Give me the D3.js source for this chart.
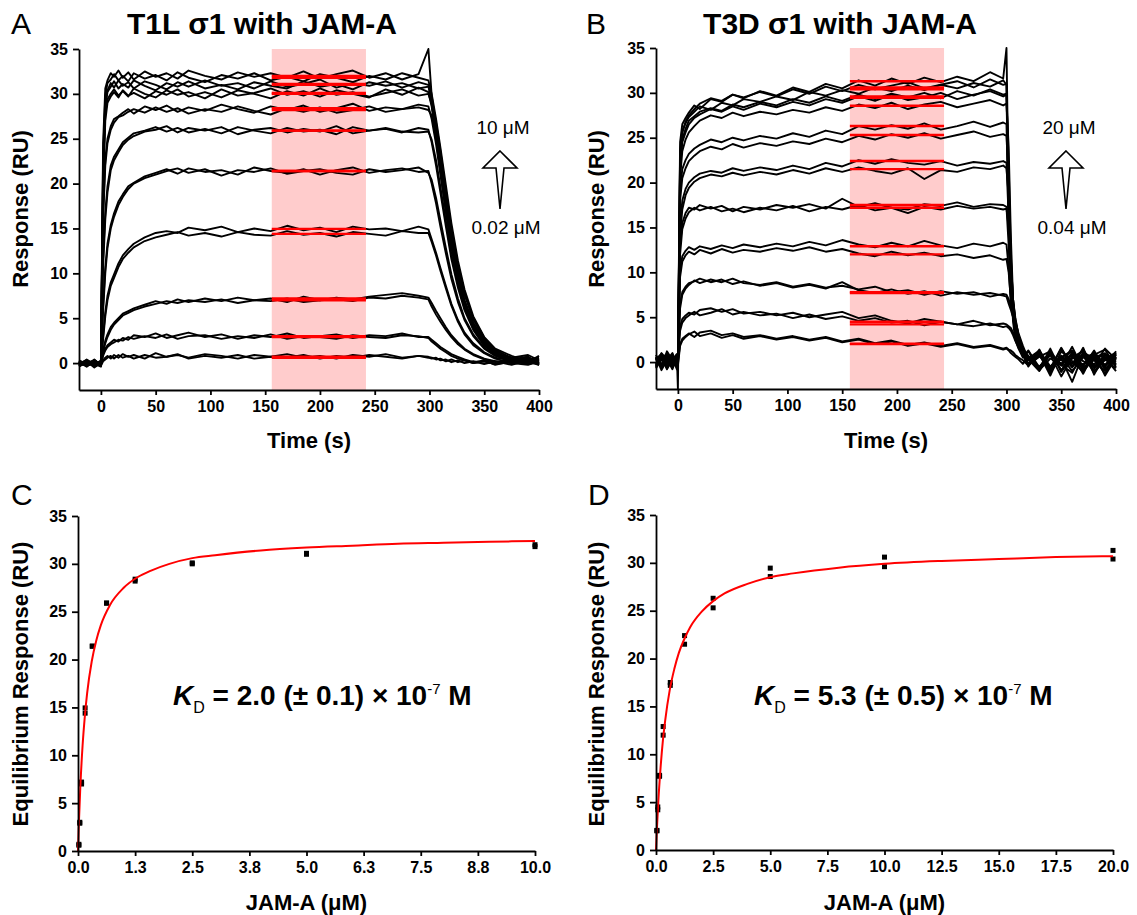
<!DOCTYPE html>
<html>
<head>
<meta charset="utf-8">
<script src="https://d3js.org/d3.v7.min.js"></script>
<style>
  body { margin: 0; background: #fff; }
  text { font-family: "Liberation Sans", Arial, sans-serif; fill: #000; }
  .axis .tick text { font-size: 16px; font-weight: bold; }
  .axis path, .axis line { stroke: #000; stroke-width: 1.8; }
</style>
</head>
<body>
<div id="chart"></div>
<script>
// ---------- panel A : T1L sigma1 sensorgrams ----------
var timeA = [-20,-13,-6,0,2,4,6,9,12,16,20,25,30,40,50,60,70,80,95,110,125,140,155,170,185,200,215,230,245,260,275,290,299,302,306,310,315,320,326,332,340,350,360,375,390,400];

var a10r1 = [-0.3,0.2,-0.5,0.0, 24.5,30.6,31.5,32.3,31.9,32.6,31.8,32.4,31.6,32.5,31.9,32.3,31.7,32.6,32.0,31.6,32.4,31.9,32.3,31.8,32.5,31.7,32.2,32.6,31.8,32.3,31.6,32.2, 35.0,29.8,26.5,23.0,18.6,14.5,10.6,7.6,4.9,2.6,1.4,0.6,0.9,0.3];
var a10r2 = [0.1,-0.4,0.3,-0.2, 23.0,29.8,31.2,31.6,32.2,31.5,32.0,31.4,32.3,31.7,32.1,31.5,32.4,31.8,31.3,32.1,31.7,32.3,31.5,31.9,31.4,32.2,31.8,31.3,32.0,31.6,32.3,31.8, 31.5,30.0,27.2,24.0,19.8,15.6,11.4,8.2,5.2,2.9,1.6,0.8,0.2,0.6];
var a5r1 = [-0.2,0.4,-0.1,-0.4, 22.0,29.0,30.4,31.2,30.7,31.5,30.9,31.3,30.6,31.4,31.0,30.5,31.3,30.8,31.5,30.9,31.2,30.6,31.4,30.8,31.1,31.6,30.7,31.2,30.9,31.4,30.7,31.3, 31.0,29.0,25.8,22.4,17.9,13.8,10.0,7.0,4.5,2.4,1.2,0.3,0.7,-0.2];
var a5r2 = [0.3,-0.1,0.2,-0.3, 21.0,28.5,30.2,30.8,31.4,30.6,31.1,30.7,31.5,30.9,30.4,31.2,30.8,31.4,30.6,31.0,30.5,31.3,30.9,30.6,31.4,30.8,31.1,30.5,31.3,30.9,31.2,30.6, 30.8,29.5,26.8,23.6,19.2,15.0,11.0,7.9,5.0,2.8,1.5,0.5,0.1,0.8];
var a2r1 = [-0.4,0.1,-0.2,0.2, 20.5,27.8,29.4,30.0,30.5,29.8,30.3,29.7,30.6,30.0,29.6,30.4,29.9,30.2,29.5,30.5,29.8,30.1,30.6,29.9,30.3,29.7,30.4,30.0,29.6,30.5,29.9,30.7, 30.2,28.6,25.0,21.3,16.8,12.9,9.2,6.4,4.0,2.1,1.0,0.6,-0.1,0.4];
var a2r2 = [0.2,-0.3,0.0,-0.1, 19.5,27.0,29.0,29.7,30.2,29.6,30.4,29.8,30.1,29.5,30.3,29.9,30.5,29.7,30.2,29.6,30.4,30.0,29.5,30.3,29.8,30.6,29.9,30.2,29.7,30.1,30.5,29.8, 30.0,28.9,25.6,22.0,17.6,13.4,9.7,6.8,4.3,2.3,1.1,0.2,0.5,0.0];
var a1r1 = [-0.1,0.3,-0.3,0.1, 17.0,22.7,25.0,26.4,27.2,27.5,27.9,28.3,27.8,28.6,28.2,28.7,28.0,28.5,28.1,28.8,28.3,27.9,28.6,28.2,28.7,28.0,28.4,28.9,28.1,28.5,28.3,28.8, 28.6,27.2,24.4,21.0,16.9,13.0,9.4,6.6,4.2,2.2,1.1,0.4,0.7,-0.1];
var a1r2 = [0.2,-0.2,0.4,-0.3, 16.0,22.0,24.5,26.0,26.8,27.4,27.6,28.0,28.3,27.9,28.5,28.0,28.4,27.8,28.3,28.0,28.6,28.1,27.7,28.4,28.0,28.5,27.9,28.2,28.6,28.0,28.3,28.5, 28.2,27.6,25.2,21.8,17.5,13.5,9.8,6.9,4.4,2.4,1.3,0.1,0.4,0.6];
var a06r1 = [-0.3,0.0,0.3,-0.2, 11.7,16.8,19.7,22.0,23.0,23.8,24.6,25.1,25.6,25.9,26.3,25.8,26.2,25.7,26.1,25.6,26.3,25.9,25.6,26.2,25.8,26.0,25.5,26.3,25.9,26.1,25.7,26.2, 26.0,24.6,22.0,19.0,15.2,11.6,8.4,5.9,3.7,1.9,1.0,0.3,0.6,0.0];
var a06r2 = [0.1,-0.3,0.0,0.2, 10.8,16.0,19.0,21.5,22.6,23.5,24.3,24.9,25.3,25.8,26.0,26.4,25.7,26.2,25.9,26.3,25.5,26.0,26.2,25.7,26.1,25.8,26.4,25.6,25.9,26.2,25.8,25.7, 25.8,24.9,22.6,19.6,15.8,12.1,8.8,6.2,3.9,2.0,1.1,0.5,-0.1,0.3];
var a03r1 = [-0.2,0.2,-0.3,0.3, 6.4,10.7,13.3,15.4,16.7,18.0,18.8,19.7,20.1,20.8,21.2,21.6,21.1,21.7,21.3,21.5,21.0,21.8,21.4,21.2,21.6,21.0,21.5,21.8,21.2,21.5,21.7,21.3, 21.4,20.0,17.8,15.2,12.2,9.4,6.8,4.8,3.0,1.6,0.8,0.2,0.5,-0.2];
var a03r2 = [0.2,-0.1,0.1,-0.2, 5.8,10.0,12.8,15.0,16.3,17.6,18.5,19.4,20.0,20.6,21.0,21.4,21.7,21.2,21.6,20.9,21.5,21.3,21.7,21.1,21.4,21.6,21.2,21.0,21.6,21.3,21.5,21.8, 21.2,20.4,18.4,15.9,12.8,9.9,7.2,5.0,3.2,1.7,0.9,0.4,0.0,0.4];
var a016r1 = [-0.1,0.3,-0.2,0.0, 3.0,5.7,7.5,9.0,9.9,11.1,12.0,12.7,13.3,14.0,14.5,14.7,14.5,15.1,14.8,15.2,14.6,15.0,14.7,15.3,14.8,15.1,14.6,15.2,14.9,15.0,14.7,15.2, 14.9,13.8,12.3,10.6,8.6,6.6,4.8,3.4,2.2,1.2,0.6,0.3,-0.1,0.2];
var a016r2 = [0.2,-0.2,0.3,-0.1, 2.6,5.2,7.0,8.6,9.5,10.7,11.6,12.3,12.9,13.6,14.0,14.3,14.6,14.2,14.5,14.1,14.6,14.3,14.2,14.7,14.3,14.5,14.1,14.6,14.4,14.2,14.7,14.5, 14.5,13.5,12.0,10.3,8.3,6.4,4.6,3.2,2.0,1.1,0.5,0.0,0.3,-0.1];
var a008r1 = [-0.3,0.1,-0.1,0.2, 1.4,2.5,3.2,4.0,4.5,5.0,5.5,5.8,6.1,6.5,6.9,6.6,7.1,6.8,7.2,6.9,7.3,7.0,7.2,6.8,7.4,7.0,7.3,7.1,7.4,7.6,7.8,7.5, 7.3,6.7,5.8,5.0,4.0,3.1,2.3,1.6,1.0,0.5,0.2,-0.2,0.3,0.0];
var a008r2 = [0.1,-0.3,0.2,-0.2, 1.2,2.2,2.9,3.7,4.3,4.8,5.3,5.6,5.9,6.3,6.6,6.9,6.7,7.0,6.8,7.1,6.7,7.0,6.9,7.2,6.8,7.0,7.1,6.9,7.3,7.2,7.5,7.3, 7.1,6.3,5.4,4.6,3.7,2.9,2.1,1.5,0.9,0.4,0.1,0.4,-0.1,0.2];
var a004r1 = [-0.2,0.2,-0.2,0.1, 1.0,1.6,2.0,2.3,2.6,2.4,2.8,2.6,3.1,2.9,3.3,2.8,3.1,3.4,2.9,3.2,2.7,3.1,2.9,3.3,2.8,3.0,3.2,2.8,3.1,3.0,3.3,2.9, 2.9,2.6,2.2,1.8,1.4,1.0,0.7,0.4,0.1,0.3,-0.2,0.2,-0.1,0.3];
var a004r2 = [0.1,-0.2,0.2,-0.3, 0.8,1.4,1.8,2.1,2.3,2.6,2.5,2.9,2.7,3.0,2.8,3.2,2.7,3.0,3.1,2.7,3.0,2.8,3.2,2.7,3.0,2.9,2.7,3.1,2.9,2.8,3.1,3.0, 2.8,2.4,2.0,1.6,1.2,0.8,0.5,0.3,0.0,0.2,-0.1,0.3,0.1,-0.2];
var a002r1 = [-0.3,0.1,-0.2,0.0, 0.3,0.6,0.8,0.5,0.9,0.6,1.0,0.7,0.9,0.5,1.1,0.7,0.9,0.6,1.0,0.8,0.5,0.9,0.7,1.0,0.6,0.8,0.5,0.9,0.7,1.0,0.6,0.8, 0.7,0.6,0.4,0.5,0.2,0.4,0.1,0.3,0.0,0.2,-0.1,0.1,0.3,-0.1];
var a002r2 = [0.2,-0.2,0.1,-0.3, 0.2,0.4,0.6,0.8,0.5,0.9,0.6,0.8,0.5,0.9,0.6,0.7,1.0,0.5,0.8,0.6,0.9,0.5,0.7,0.6,0.9,0.5,0.8,0.6,0.9,0.7,0.5,0.8, 0.6,0.5,0.6,0.3,0.4,0.1,0.3,0.0,0.2,-0.1,0.2,0.0,-0.2,0.2];

var seriesA = [a10r1, a10r2, a5r1, a5r2, a2r1, a2r2, a1r1, a1r2, a06r1, a06r2,
               a03r1, a03r2, a016r1, a016r2, a008r1, a008r2, a004r1, a004r2, a002r1, a002r2];

// ---------- panel B : T3D sigma1 sensorgrams ----------
var timeB = [-20,-15,-10,-5,-1,0,2,4,7,10,15,20,30,40,50,60,75,90,105,120,135,150,165,180,195,210,225,240,255,270,285,297,300,302,304,306,308,311,315,320,330,340,350,360,370,380,390,400];

var b20r1 = [0.8,-0.5,1.2,0.2,0.9, 0.5, 24.5,26.5,27.2,27.8,28.6,28.2,29.3,29.0,29.8,29.4, 30.2,29.7,30.6,30.1,31.0,30.5,31.4,30.8,31.6,31.0,31.7,31.2,31.8,31.3,32.3,31.6, 35.0,18.0,9.0,4.5,2.5,1.5,0.5,1.2,-0.8,1.5,-1.0,1.1,-0.5,1.3,-0.9,0.6];
var b20r2 = [-0.4,1.0,0.3,-0.8,0.6, -1.0, 23.5,25.8,26.6,27.3,27.9,28.5,28.1,28.9,28.6,29.3, 29.0,29.6,29.2,30.1,29.7,30.3,29.9,30.6,30.2,30.8,30.3,30.9,30.5,31.1,30.7,31.4, 30.9,20.0,11.0,6.0,3.5,2.0,0.8,-0.5,1.4,-1.2,0.7,-0.6,1.6,-1.4,0.9,0.2];
var b10r1 = [0.3,0.9,-0.6,0.5,-0.2, 0.2, 23.0,25.5,26.8,27.5,28.2,28.8,29.4,29.1,29.8,29.5, 30.1,29.6,30.4,29.9,30.7,30.2,30.9,30.4,30.8,31.2,30.5,30.9,31.3,30.6,31.5,30.9, 31.0,15.0,7.5,5.0,3.0,1.8,1.0,-0.3,0.9,-1.5,1.2,0.1,-1.1,0.8,1.4,-0.6];
var b10r2 = [-0.7,0.4,0.9,-0.3,0.6, -0.5, 21.5,24.8,26.0,26.9,27.4,27.9,28.3,28.0,28.7,28.4, 29.0,28.6,29.3,28.9,29.6,29.1,29.8,29.3,29.9,29.5,30.0,29.4,30.2,29.7,30.4,29.8, 29.9,22.0,12.0,6.5,4.0,2.2,1.1,0.3,-1.0,1.0,-0.4,1.7,-0.8,0.4,-1.3,1.0];
var b5r1 = [0.5,-0.9,0.2,1.0,-0.4, 0.0, 22.0,24.5,25.6,26.5,27.2,27.6,28.2,27.9,28.5,28.1, 28.8,28.4,29.0,28.6,29.3,28.9,29.6,29.1,29.8,29.2,29.5,30.0,29.3,29.8,30.2,29.6, 29.8,16.5,8.0,5.5,3.2,2.0,0.6,1.3,-0.6,0.8,-1.6,0.5,1.2,-0.7,0.6,-0.2];
var b5r2 = [-0.2,0.6,-0.8,0.3,0.8, -3.0, 20.5,23.5,24.8,25.6,26.3,26.9,27.5,27.2,27.8,27.4, 27.9,27.6,28.1,27.8,28.4,28.0,28.7,28.3,28.9,28.2,28.7,29.0,28.4,28.8,29.2,28.6, 28.8,24.0,14.0,7.0,4.5,2.4,1.0,-0.4,1.1,-0.9,0.4,-2.2,0.9,-0.3,1.5,0.3];
var b2r1 = [0.4,-0.6,0.7,-0.1,0.3, 0.1, 19.0,21.5,22.5,23.2,23.8,24.2,24.8,24.5,25.0,24.7, 25.2,24.9,25.5,25.1,25.8,25.4,26.3,25.9,26.4,26.0,26.6,25.9,26.3,26.8,26.2,26.7, 26.5,17.0,9.0,6.5,4.2,2.6,1.2,0.4,-0.7,1.3,-1.1,0.6,-0.3,1.0,-1.5,0.5];
var b2r2 = [-0.5,0.7,-0.3,0.5,-0.8, 0.4, 18.0,20.5,21.6,22.4,23.0,23.5,24.0,23.7,24.3,23.9, 24.4,24.1,24.6,24.3,24.9,24.5,25.2,24.8,25.4,25.0,25.5,24.9,25.3,25.7,25.1,25.4, 25.2,20.0,11.5,7.0,5.0,3.0,1.5,0.2,0.9,-0.8,1.5,-0.5,0.7,-1.2,0.3,1.1];
var b1r1 = [0.2,0.8,-0.4,0.6,-0.1, -0.3, 15.0,18.0,19.3,20.0,20.6,21.0,21.3,21.1,21.6,21.3, 21.7,21.4,21.9,21.5,22.2,21.8,22.5,22.1,22.6,22.2,22.0,22.4,21.9,22.3,22.1,22.4, 22.2,16.0,9.5,6.0,4.0,2.5,1.0,-0.2,1.2,-1.0,0.5,1.3,-0.6,0.2,-1.0,0.8];
var b1r2 = [-0.3,0.3,0.9,-0.6,0.4, 0.6, 14.0,17.0,18.6,19.4,20.1,20.5,20.9,20.7,21.1,20.8, 21.2,20.9,21.4,21.0,21.6,21.2,21.7,21.3,21.0,21.6,20.4,21.4,21.2,21.7,21.5,21.9, 21.6,18.5,11.0,7.0,4.8,3.0,1.4,0.6,-0.9,0.9,-0.3,-1.2,1.1,0.4,-0.5,1.2];
var b06r1 = [0.6,-0.4,0.2,0.9,-0.5, 0.3, 13.0,15.5,16.6,17.2,17.0,17.5,17.1,17.4,16.8,17.3, 17.0,17.5,17.2,17.6,17.1,18.2,17.3,17.7,17.2,17.0,17.6,17.4,17.8,17.3,17.6,17.5, 17.3,13.0,7.5,5.5,4.0,2.5,1.2,0.3,1.0,-0.7,1.6,-0.5,0.8,-1.0,0.4,-0.3];
var b06r2 = [-0.6,0.5,-0.1,0.3,0.7, -0.2, 12.0,14.8,16.0,16.7,17.2,16.9,17.3,16.8,17.1,16.7, 17.2,16.9,17.4,16.8,17.3,17.0,17.5,16.9,17.2,16.6,17.3,17.0,17.4,17.1,17.3,17.0, 17.1,15.0,9.0,6.5,4.5,2.8,1.5,-0.3,0.6,1.2,-0.9,0.4,1.3,-0.6,0.9,0.0];
var b03r1 = [0.3,0.9,-0.5,0.4,-0.2, 0.0, 10.0,11.8,12.4,12.8,12.5,12.9,12.6,13.0,12.7,13.1, 12.8,13.2,12.9,13.4,13.0,13.6,13.1,12.8,13.3,12.9,13.5,13.0,12.7,13.2,12.9,13.3, 13.1,10.5,6.5,5.0,3.6,2.2,1.1,0.5,-0.8,1.0,-0.2,0.8,-1.3,1.1,-0.4,0.6];
var b03r2 = [-0.4,0.2,0.8,-0.3,0.5, 0.3, 9.5,11.2,11.9,12.3,12.0,12.5,12.1,12.6,12.2,12.5, 12.3,12.7,12.4,12.8,12.3,12.6,12.1,11.8,12.3,11.9,12.2,11.8,12.0,11.6,11.9,11.4, 11.5,10.0,7.0,5.8,4.3,2.9,1.6,0.4,1.3,-0.5,0.6,-1.0,0.5,0.9,-0.7,0.3];
var b016r1 = [0.5,-0.3,0.9,-0.6,0.2, 0.4, 6.5,7.8,8.4,8.8,9.0,9.3,8.9,9.2,8.7,9.0, 8.5,8.8,8.3,8.6,8.2,8.9,8.0,7.7,8.1,7.6,7.9,7.4,7.8,7.5,7.7,7.4, 7.3,6.5,5.8,5.0,4.0,2.8,1.4,0.7,-0.6,1.1,-0.3,0.9,-0.8,0.5,1.0,-0.4];
var b016r2 = [-0.2,0.6,0.1,0.7,-0.4, -0.6, 6.0,7.5,8.2,8.6,9.1,8.8,9.2,8.9,9.3,8.8, 8.6,8.9,8.4,8.7,8.3,8.5,8.1,8.4,7.8,8.0,7.5,7.9,7.6,7.8,7.3,7.6, 7.5,7.0,6.2,5.4,4.5,3.2,1.8,0.3,0.9,-1.0,0.7,-0.2,1.4,-0.5,0.2,0.8];
var b008r1 = [0.3,-0.5,0.6,0.0,0.8, 0.2, 4.0,4.8,5.2,5.5,5.3,5.8,6.0,5.6,5.9,5.4, 5.6,5.2,5.5,5.0,5.3,5.6,4.9,5.2,4.6,4.3,4.8,4.5,4.2,4.6,4.1,4.3, 4.2,4.0,3.8,3.3,2.6,1.8,1.0,0.4,-0.5,0.8,-0.2,1.0,-0.7,0.6,-0.3,0.9];
var b008r2 = [-0.5,0.4,-0.1,0.6,-0.3, 0.5, 3.5,4.4,4.9,5.2,5.6,5.2,5.5,5.9,5.3,5.6, 5.2,5.4,4.9,5.3,4.8,5.1,4.6,4.9,4.4,4.6,4.1,4.5,4.2,4.0,4.3,3.9, 4.0,3.8,3.5,3.0,2.4,1.6,0.8,-0.3,1.1,-0.6,0.5,1.2,-1.0,0.4,0.8,-0.2];
var b004r1 = [0.6,-0.2,0.3,-0.6,0.4, 0.0, 2.0,2.6,2.9,3.2,2.8,3.3,3.5,3.0,3.2,2.8, 3.0,2.6,2.9,2.5,2.8,2.3,2.6,2.1,2.4,1.9,2.2,1.8,2.1,1.7,1.9,1.5, 1.6,1.4,1.3,1.1,0.8,0.5,0.2,-0.4,0.7,-0.8,0.5,-0.1,0.9,-0.5,0.3,-0.7];
var b004r2 = [-0.3,0.5,-0.7,0.2,0.6, -0.4, 1.8,2.4,2.8,3.1,3.4,2.9,3.2,2.7,3.0,2.6, 2.9,2.5,2.8,2.4,2.7,2.2,2.5,2.0,2.3,1.8,2.1,1.7,2.0,1.6,1.8,1.4, 1.5,1.3,1.0,0.8,0.6,0.3,-0.2,0.6,-0.9,0.4,-0.3,0.8,0.1,-0.6,0.5,-1.0];

var seriesB = [b20r1, b20r2, b10r1, b10r2, b5r1, b5r2, b2r1, b2r2, b1r1, b1r2,
               b06r1, b06r2, b03r1, b03r2, b016r1, b016r2, b008r1, b008r2, b004r1, b004r2];

// ---------- equilibrium responses (red lines in A/B, points in C/D) ----------
var concA = [10, 5, 2.5, 1.25, 0.625, 0.3125, 0.156, 0.078, 0.039, 0.0195];
var eqA1 = [32.0, 31.1, 30.1, 28.4, 25.9, 21.4, 14.95, 7.2, 2.9, 0.7];
var eqA2 = [31.8, 31.0, 30.0, 28.2, 25.9, 21.4, 14.4, 7.0, 3.0, 0.6];

var concB = [20, 10, 5, 2.5, 1.25, 0.625, 0.3125, 0.156, 0.078, 0.039];
var eqB1 = [31.3, 30.6, 29.45, 26.3, 22.4, 17.5, 12.9, 7.8, 4.5, 2.05];
var eqB2 = [30.4, 29.6, 28.57, 25.3, 21.5, 17.2, 12.0, 7.7, 4.2, 2.0];

// steady-state window (s)
var bandA = [156, 242];
var bandB = [157, 243];

var fitCx = [0, 0.02, 0.05, 0.1, 0.15, 0.2, 0.3, 0.4, 0.5, 0.7, 1.0, 1.3, 1.6, 2.0, 2.5, 3.0, 4.0, 5.0, 6.0, 7.0, 8.0, 9.0, 10.0];
var fitCy = [0, 3.0, 6.6, 11.0, 14.1, 16.5, 19.8, 22.0, 23.6, 25.7, 27.5, 28.6, 29.3, 30.0, 30.6, 30.9, 31.4, 31.7, 31.9, 32.1, 32.2, 32.3, 32.4];
var fitDx = [0, 0.05, 0.1, 0.2, 0.3, 0.4, 0.6, 0.8, 1.0, 1.25, 1.5, 2.0, 2.5, 3.0, 4.0, 5.0, 6.0, 8.0, 10, 12.5, 15, 17.5, 20];
var fitDy = [0, 2.7, 5.0, 8.6, 11.4, 13.5, 16.7, 18.9, 20.6, 22.1, 23.3, 24.9, 26.0, 26.8, 27.8, 28.5, 28.9, 29.5, 29.9, 30.2, 30.4, 30.6, 30.7];

// ticks
var yTicks = [0, 5, 10, 15, 20, 25, 30, 35];
var timeTicks = [0, 50, 100, 150, 200, 250, 300, 350, 400];
var xTicksC = [0, 1.25, 2.5, 3.75, 5, 6.25, 7.5, 8.75, 10];
var xLabelsC = ["0.0", "1.3", "2.5", "3.8", "5.0", "6.3", "7.5", "8.8", "10.0"];
var xTicksD = [0, 2.5, 5, 7.5, 10, 12.5, 15, 17.5, 20];
var xLabelsD = ["0.0", "2.5", "5.0", "7.5", "10.0", "12.5", "15.0", "17.5", "20.0"];

// ---------- svg ----------
var svgWidth = 1137;
var svgHeight = 915;

var svg = d3.select("#chart")
  .append("svg")
  .attr("width", svgWidth)
  .attr("height", svgHeight);

// axes shared helper
function drawAxes(x, y, box, xTicks, xLabels) {
  var bottomAxis = d3.axisBottom(x).tickValues(xTicks).tickSize(5).tickSizeOuter(0).tickPadding(6);
  if (xLabels) bottomAxis.tickFormat((d, i) => xLabels[i]);
  var leftAxis = d3.axisLeft(y).tickValues(yTicks).tickSize(6).tickSizeOuter(0).tickPadding(5);

  svg.append("g")
    .attr("class", "axis")
    .attr("transform", `translate(0, ${box.bottom})`)
    .call(bottomAxis);

  svg.append("g")
    .attr("class", "axis")
    .attr("transform", `translate(${box.left}, 0)`)
    .call(leftAxis);
}

function label(x, y, str, size, weight, anchor) {
  return svg.append("text")
    .attr("x", x)
    .attr("y", y)
    .attr("font-size", size)
    .attr("font-weight", weight)
    .attr("text-anchor", anchor || "start")
    .text(str);
}

function vlabel(x, y, str) {
  svg.append("text")
    .attr("transform", `translate(${x}, ${y}) rotate(-90)`)
    .attr("font-size", 22)
    .attr("font-weight", "bold")
    .attr("text-anchor", "middle")
    .text(str);
}

// sensorgram panel
function sensorgram(box, times, series, eq1, eq2, band, opts) {
  var x = d3.scaleLinear().domain([-20, 400]).range([box.left, box.right]);
  var y = d3.scaleLinear().domain([-3, 35]).range([box.bottom, box.top]);

  // steady-state window
  svg.append("rect")
    .attr("x", x(band[0]))
    .attr("y", y(35))
    .attr("width", x(band[1]) - x(band[0]))
    .attr("height", y(-3) - y(35))
    .attr("fill", "#ffcccc");

  var line = d3.line()
    .x(d => x(d[0]))
    .y(d => y(d[1]));

  series.forEach(function(vals) {
    var pts = vals.map((v, i) => [times[i], v]).filter(d => d[0] !== undefined);
    svg.append("path")
      .datum(pts)
      .attr("d", line)
      .attr("fill", "none")
      .attr("stroke", "#000")
      .attr("stroke-width", 1.9)
      .attr("stroke-linejoin", "round");
  });

  // equilibrium levels
  var levels = eq1.concat(eq2);
  svg.selectAll(null)
    .data(levels)
    .enter()
    .append("line")
    .attr("x1", x(band[0]))
    .attr("x2", x(band[1]))
    .attr("y1", d => y(d))
    .attr("y2", d => y(d))
    .attr("stroke", "#ff0000")
    .attr("stroke-width", 2.4);

  drawAxes(x, y, box, timeTicks);

  label(opts.letterX, 34, opts.letter, 30, "normal");
  label(opts.titleX, 34, opts.title, 30, "bold", "middle");
  vlabel(opts.yLabelX, 209, "Response (RU)");
  label((box.left + box.right) / 2, 448, "Time (s)", 22, "bold", "middle");

  // concentration arrow
  label(opts.arrowX + 3, 134, opts.hi, 19, "normal", "middle");
  label(opts.arrowX + 6, 234, opts.lo, 19, "normal", "middle");
  var ax = opts.arrowX;
  svg.append("path")
    .attr("d", `M${ax},151 L${ax + 17},168 L${ax + 4},168 L${ax},209 L${ax - 4},168 L${ax - 17},168 Z`)
    .attr("fill", "#fff")
    .attr("stroke", "#000")
    .attr("stroke-width", 1.6)
    .attr("stroke-linejoin", "miter");
}

// equilibrium binding panel
function binding(box, xMax, xTicks, xLabels, conc, eq1, eq2, fx, fy, opts) {
  var x = d3.scaleLinear().domain([0, xMax]).range([box.left, box.right]);
  var y = d3.scaleLinear().domain([0, 35]).range([box.bottom, box.top]);

  var pts = conc.map((c, i) => [c, eq1[i]]).concat(conc.map((c, i) => [c, eq2[i]]));

  svg.selectAll(null)
    .data(pts)
    .enter()
    .append("rect")
    .attr("x", d => x(d[0]) - 2.5)
    .attr("y", d => y(d[1]) - 2.5)
    .attr("width", 5)
    .attr("height", 5)
    .attr("fill", "#000");

  var fitLine = d3.line()
    .x(d => x(d[0]))
    .y(d => y(d[1]))
    .curve(d3.curveMonotoneX);

  svg.append("path")
    .datum(fx.map((v, i) => [v, fy[i]]))
    .attr("d", fitLine)
    .attr("fill", "none")
    .attr("stroke", "#ff0000")
    .attr("stroke-width", 2);

  drawAxes(x, y, box, xTicks, xLabels);

  label(opts.letterX, 505, opts.letter, 30, "normal");
  vlabel(opts.yLabelX, 684, "Equilibrium Response (RU)");
  label((box.left + box.right) / 2, 910, "JAM-A (μM)", 22, "bold", "middle");

  // dissociation constant
  var kd = svg.append("text")
    .attr("x", opts.kdX)
    .attr("y", 705)
    .attr("font-size", 28)
    .attr("font-weight", "bold");
  kd.append("tspan").attr("font-style", "italic").text("K");
  kd.append("tspan").attr("font-size", 16).attr("font-weight", "normal").attr("dy", 8).text("D");
  kd.append("tspan").attr("dy", -8).text(" = " + opts.kd + " × 10");
  kd.append("tspan").attr("font-size", 15).attr("font-weight", "normal").attr("dy", -11).text("-7");
  kd.append("tspan").attr("dy", 11).text(" M");
}

sensorgram({left: 79, right: 539, top: 49, bottom: 390}, timeA, seriesA, eqA1, eqA2, bandA,
  {letter: "A", letterX: 11, title: "T1L σ1 with JAM-A", titleX: 262, yLabelX: 28,
   hi: "10 μM", lo: "0.02 μM", arrowX: 500});

sensorgram({left: 656, right: 1116, top: 48, bottom: 389}, timeB, seriesB, eqB1, eqB2, bandB,
  {letter: "B", letterX: 586, title: "T3D σ1 with JAM-A", titleX: 840, yLabelX: 604,
   hi: "20 μM", lo: "0.04 μM", arrowX: 1066});

binding({left: 78, right: 535, top: 516, bottom: 851}, 10, xTicksC, xLabelsC, concA, eqA1, eqA2, fitCx, fitCy,
  {letter: "C", letterX: 11, yLabelX: 28, kdX: 173, kd: "2.0 (± 0.1)"});

binding({left: 656, right: 1113, top: 515, bottom: 850}, 20, xTicksD, xLabelsD, concB, eqB1, eqB2, fitDx, fitDy,
  {letter: "D", letterX: 588, yLabelX: 604, kdX: 754, kd: "5.3 (± 0.5)"});
</script>
</body>
</html>
